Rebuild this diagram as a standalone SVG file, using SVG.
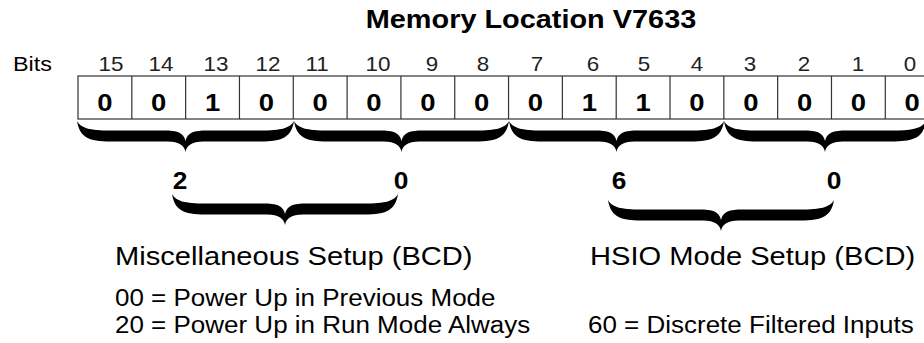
<svg xmlns="http://www.w3.org/2000/svg" xmlns:xlink="http://www.w3.org/1999/xlink" width="924" height="343" viewBox="0 0 924 343">
<style>
text{font-family:"Liberation Sans",Arial,Helvetica,sans-serif;fill:#000}
.title{font-size:26.5px;font-weight:bold;text-anchor:middle}
.lbl{font-size:20.5px}
.bitn{font-size:20px;text-anchor:middle;fill:#222}
.bitv{font-size:24.5px;font-weight:bold;text-anchor:middle}
.dig{font-size:23.5px;font-weight:bold;text-anchor:middle}
.head{font-size:26px}
.item{font-size:23px}
.cell{fill:none;stroke:#333;stroke-width:1.2}
.brace{fill:#000}
</style>
<defs>
<path id="br217" d="M0,0 C4,7 12,9.5 34,9.5 L86.5,9.5 C100.5,9.5 106.5,11.5 108.5,20 C110.5,11.5 116.5,9.5 130.5,9.5 L183,9.5 C205,9.5 213,7 217,0 C214,18.5 203,20.5 179,20.5 L126.5,20.5 C114.5,20.5 109.5,25 108.5,31 C107.5,25 102.5,20.5 90.5,20.5 L38,20.5 C14,20.5 3,18.5 0,0 Z"/>
<path id="br215" d="M0,0 C4,7 12,9.5 34,9.5 L85.5,9.5 C99.5,9.5 105.5,11.5 107.5,20 C109.5,11.5 115.5,9.5 129.5,9.5 L181,9.5 C203,9.5 211,7 215,0 C212,18.5 201,20.5 177,20.5 L125.5,20.5 C113.5,20.5 108.5,25 107.5,31 C106.5,25 101.5,20.5 89.5,20.5 L38,20.5 C14,20.5 3,18.5 0,0 Z"/>
<path id="br202" d="M0,0 C4,7 12,9.5 34,9.5 L79,9.5 C93,9.5 99,11.5 101,20 C103,11.5 109,9.5 123,9.5 L168,9.5 C190,9.5 198,7 202,0 C199,18.5 188,20.5 164,20.5 L119,20.5 C107,20.5 102,25 101,31 C100,25 95,20.5 83,20.5 L38,20.5 C14,20.5 3,18.5 0,0 Z"/>
<path id="br226" d="M0,0 C4,7 12,9.5 34,9.5 L91,9.5 C105,9.5 111,11.5 113,20 C115,11.5 121,9.5 135,9.5 L192,9.5 C214,9.5 222,7 226,0 C223,18.5 212,20.5 188,20.5 L131,20.5 C119,20.5 114,25 113,31 C112,25 107,20.5 95,20.5 L38,20.5 C14,20.5 3,18.5 0,0 Z"/>
</defs>
<rect width="924" height="343" fill="#fff"/>

<g id="title">
<text class="title" transform="translate(531,28) scale(1.09,1)">Memory Location V7633</text>
</g>

<g id="bit-numbers">
<text class="lbl" transform="translate(13,71) scale(1.14,1)">Bits</text>
<text class="bitn" transform="translate(111,71) scale(1.12,1)">15</text>
<text class="bitn" transform="translate(161,71) scale(1.12,1)">14</text>
<text class="bitn" transform="translate(216,71) scale(1.12,1)">13</text>
<text class="bitn" transform="translate(268,71) scale(1.12,1)">12</text>
<text class="bitn" transform="translate(317,71) scale(1.12,1)">11</text>
<text class="bitn" transform="translate(378,71) scale(1.12,1)">10</text>
<text class="bitn" transform="translate(432,71) scale(1.12,1)">9</text>
<text class="bitn" transform="translate(483,71) scale(1.12,1)">8</text>
<text class="bitn" transform="translate(537,71) scale(1.12,1)">7</text>
<text class="bitn" transform="translate(593,71) scale(1.12,1)">6</text>
<text class="bitn" transform="translate(644,71) scale(1.12,1)">5</text>
<text class="bitn" transform="translate(697,71) scale(1.12,1)">4</text>
<text class="bitn" transform="translate(750,71) scale(1.12,1)">3</text>
<text class="bitn" transform="translate(804,71) scale(1.12,1)">2</text>
<text class="bitn" transform="translate(858,71) scale(1.12,1)">1</text>
<text class="bitn" transform="translate(910,71) scale(1.12,1)">0</text>
</g>

<g id="register">
<rect class="cell" x="78" y="76" width="861" height="43"/>
<path class="cell" d="M131.82,76V119M185.64,76V119M239.46,76V119M293.28,76V119M347.1,76V119M400.92,76V119M454.74,76V119M508.56,76V119M562.38,76V119M616.2,76V119M670.02,76V119M723.84,76V119M777.66,76V119M831.48,76V119M885.3,76V119"/>
<text class="bitv" transform="translate(104.9,111) scale(1.12,1)">0</text>
<text class="bitv" transform="translate(158.7,111) scale(1.12,1)">0</text>
<text class="bitv" transform="translate(212.6,111) scale(1.12,1)">1</text>
<text class="bitv" transform="translate(266.4,111) scale(1.12,1)">0</text>
<text class="bitv" transform="translate(320.2,111) scale(1.12,1)">0</text>
<text class="bitv" transform="translate(374,111) scale(1.12,1)">0</text>
<text class="bitv" transform="translate(427.8,111) scale(1.12,1)">0</text>
<text class="bitv" transform="translate(481.7,111) scale(1.12,1)">0</text>
<text class="bitv" transform="translate(535.5,111) scale(1.12,1)">0</text>
<text class="bitv" transform="translate(589.3,111) scale(1.12,1)">1</text>
<text class="bitv" transform="translate(643.1,111) scale(1.12,1)">1</text>
<text class="bitv" transform="translate(696.9,111) scale(1.12,1)">0</text>
<text class="bitv" transform="translate(750.8,111) scale(1.12,1)">0</text>
<text class="bitv" transform="translate(804.6,111) scale(1.12,1)">0</text>
<text class="bitv" transform="translate(858.4,111) scale(1.12,1)">0</text>
<text class="bitv" transform="translate(912.2,111) scale(1.12,1)">0</text>
</g>

<g id="connectors">
<use class="brace" xlink:href="#br217" href="#br217" transform="translate(77,121)"/>
<use class="brace" xlink:href="#br215" href="#br215" transform="translate(294,121)"/>
<use class="brace" xlink:href="#br215" href="#br215" transform="translate(509,121)"/>
<use class="brace" xlink:href="#br202" href="#br202" transform="translate(724,121)"/>
<use class="brace" xlink:href="#br226" href="#br226" transform="translate(172,194)"/>
<use class="brace" xlink:href="#br226" href="#br226" transform="translate(608,200)"/>
</g>

<g id="digits">
<text class="dig" transform="translate(180,189) scale(1.12,1)">2</text>
<text class="dig" transform="translate(401,189) scale(1.12,1)">0</text>
<text class="dig" transform="translate(619,189) scale(1.12,1)">6</text>
<text class="dig" transform="translate(834,189) scale(1.12,1)">0</text>
</g>

<g id="misc-setup">
<text class="head" transform="translate(115,265) scale(1.12,1)">Miscellaneous Setup (BCD)</text>
<text class="item" transform="translate(115,306) scale(1.13,1)">00 = Power Up in Previous Mode</text>
<text class="item" transform="translate(115,333) scale(1.13,1)">20 = Power Up in Run Mode Always</text>
</g>

<g id="hsio-setup">
<text class="head" transform="translate(590,265) scale(1.12,1)">HSIO Mode Setup (BCD)</text>
<text class="item" transform="translate(588,333) scale(1.13,1)">60 = Discrete Filtered Inputs</text>
</g>
</svg>
